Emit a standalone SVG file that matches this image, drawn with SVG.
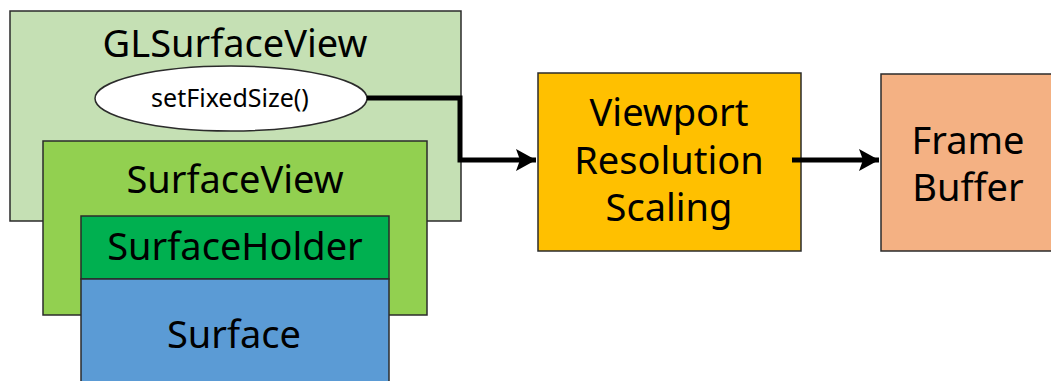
<svg xmlns="http://www.w3.org/2000/svg" width="1051" height="381" viewBox="0 0 1051 381">
<style>
.box{stroke:#2b2b2b;stroke-width:1.5}
text{font-family:"Noto Sans","Open Sans",sans-serif;fill:#000;text-anchor:middle}
.big{font-size:38px}
.small{font-size:25px}
.conn{fill:none;stroke:#000;stroke-width:5}
</style>
<defs>
<marker id="ah" markerWidth="5" markerHeight="5" refX="4" refY="2.5" orient="auto" markerUnits="strokeWidth">
<path d="M0,0.3 L4,2.5 L0,4.7 L0.8,2.5 Z" fill="#000"/>
</marker>
</defs>
<rect width="1051" height="381" fill="#fff"/>
<g id="glsurfaceview">
<rect class="box" x="10" y="11" width="451" height="210" fill="#C5E0B4"/>
<text class="big" x="235" y="57">GLSurfaceView</text>
</g>
<g id="setfixedsize">
<ellipse class="box" cx="231" cy="98.5" rx="136" ry="32.5" fill="#fff"/>
<text class="small" x="230" y="107">setFixedSize()</text>
</g>
<g id="surfaceview">
<rect class="box" x="43" y="141" width="384" height="174" fill="#92D050"/>
<text class="big" x="235" y="193">SurfaceView</text>
</g>
<g id="surfaceholder">
<rect class="box" x="81" y="216" width="308" height="63" fill="#00B050"/>
<text class="big" x="235" y="260">SurfaceHolder</text>
</g>
<g id="surface">
<rect class="box" x="81" y="279" width="308" height="110" fill="#5B9BD5"/>
<text class="big" x="234" y="348">Surface</text>
</g>
<g id="viewport">
<rect class="box" x="538" y="73" width="263" height="178" fill="#FFC000"/>
<text class="big" x="669" y="126">Viewport</text>
<text class="big" x="669" y="174">Resolution</text>
<text class="big" x="669" y="221">Scaling</text>
</g>
<g id="framebuffer">
<rect class="box" x="881" y="74" width="180" height="177" fill="#F4B183"/>
<text class="big" x="968" y="154">Frame</text>
<text class="big" x="968" y="201">Buffer</text>
</g>
<g id="connectors">
<path class="conn" d="M367,98 H460 V160 H536" marker-end="url(#ah)"/>
<path class="conn" d="M792,160 H879" marker-end="url(#ah)"/>
</g>
</svg>
